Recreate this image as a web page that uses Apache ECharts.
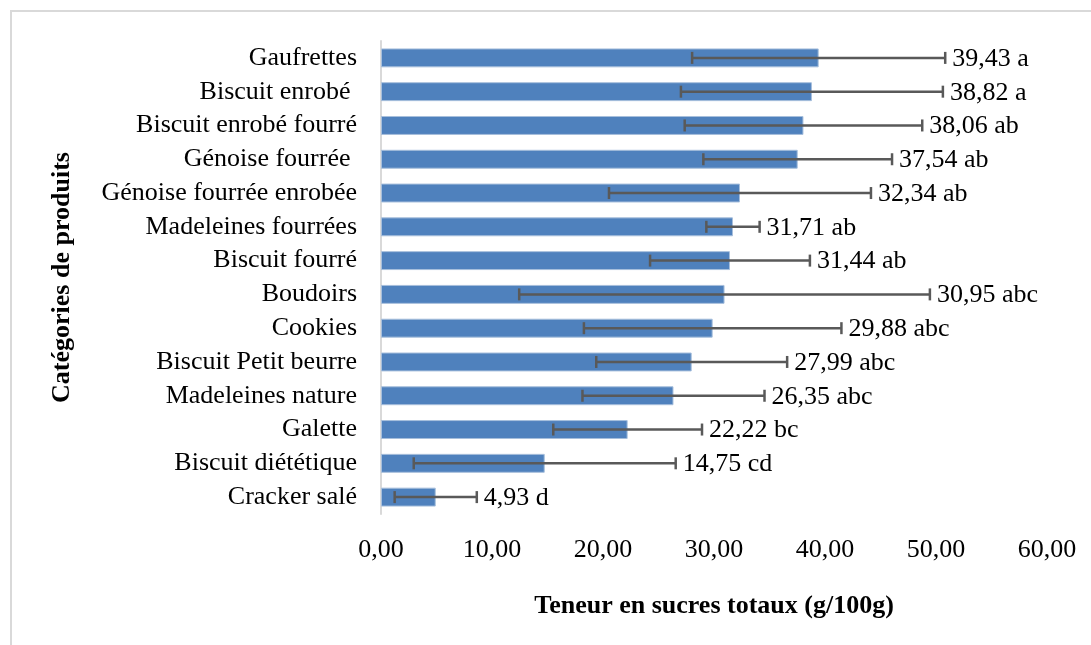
<!DOCTYPE html>
<html>
<head>
<meta charset="utf-8">
<script src="https://cdn.jsdelivr.net/npm/echarts@6/dist/echarts.min.js"></script>
<style>
  html, body { margin: 0; padding: 0; background: #fff; }
  #chart { width: 1091px; height: 645px; }
</style>
</head>
<body>
<div id="chart"></div>
<script>
const categories = [
  'Gaufrettes', 'Biscuit enrobé ', 'Biscuit enrobé fourré', 'Génoise fourrée ',
  'Génoise fourrée enrobée', 'Madeleines fourrées', 'Biscuit fourré', 'Boudoirs',
  'Cookies', 'Biscuit Petit beurre', 'Madeleines nature', 'Galette',
  'Biscuit diététique', 'Cracker salé'
]
const sugarValues = [39.43, 38.82, 38.06, 37.54, 32.34, 31.71, 31.44, 30.95, 29.88, 27.99, 26.35, 22.22, 14.75, 4.93]
const stdDev = [11.4, 11.8, 10.7, 8.5, 11.8, 2.4, 7.2, 18.5, 11.6, 8.6, 8.2, 6.7, 11.8, 3.7]
const letters = ['a', 'a', 'ab', 'ab', 'ab', 'ab', 'ab', 'abc', 'abc', 'abc', 'abc', 'bc', 'cd', 'd']
const xTicks = [0, 10, 20, 30, 40, 50, 60]

const serif = '"Liberation Serif", "Times New Roman", serif'
const fmt = (v) => v.toFixed(2).replace('.', ',')

const errData = sugarValues.map((v, i) => [v - stdDev[i], v + stdDev[i], i])

const chart = echarts.init(document.getElementById('chart'))
chart.setOption({
  animation: false,
  graphic: [
    {
      type: 'rect',
      shape: { x: 11, y: 11, width: 1100, height: 700 },
      style: { fill: 'none', stroke: '#d9d9d9', lineWidth: 2 },
      z: -1,
    },
  ],
  grid: {
    left: 381,
    top: 41,
    width: 666,
    height: 473,
  },
  xAxis: {
    type: 'value',
    min: xTicks[0],
    max: xTicks[xTicks.length - 1],
    interval: 10,
    name: 'Teneur en sucres totaux (g/100g)',
    nameLocation: 'middle',
    nameGap: 79,
    nameTextStyle: {
      fontFamily: serif,
      fontSize: 26,
      fontWeight: 'bold',
      color: '#000',
    },
    axisLine: { show: false },
    axisTick: { show: false },
    splitLine: { show: false },
    axisLabel: {
      margin: 23,
      fontFamily: serif,
      fontSize: 26,
      color: '#000',
      formatter: (v) => fmt(v),
    },
  },
  yAxis: {
    type: 'category',
    inverse: true,
    data: categories,
    name: 'Catégories de produits',
    nameLocation: 'middle',
    nameRotate: 90,
    nameGap: 306,
    nameTextStyle: {
      fontFamily: serif,
      fontSize: 26,
      fontWeight: 'bold',
      color: '#000',
    },
    axisLine: { lineStyle: { color: '#d9d9d9', width: 2 } },
    axisTick: { show: false },
    axisLabel: {
      interval: 0,
      margin: 24,
      fontFamily: serif,
      fontSize: 26,
      color: '#000',
    },
  },
  series: [
    {
      type: 'bar',
      data: sugarValues,
      barCategoryGap: '44%',
      itemStyle: {
        color: '#4f81bd',
        borderColor: '#a7bfdc',
        borderWidth: 1,
      },
    },
    // barres d'erreur + étiquettes
    {
      type: 'custom',
      data: errData,
      encode: { x: [0, 1], y: 2 },
      z: 5,
      renderItem: (params, api) => {
        const idx = api.value(2)
        const lo = api.coord([api.value(0), idx])
        const hi = api.coord([api.value(1), idx])
        const cap = 6
        const lineStyle = { stroke: '#595959', lineWidth: 2.5 }
        return {
          type: 'group',
          children: [
            { type: 'line', shape: { x1: lo[0], y1: lo[1], x2: hi[0], y2: hi[1] }, style: lineStyle },
            { type: 'line', shape: { x1: lo[0], y1: lo[1] - cap, x2: lo[0], y2: lo[1] + cap }, style: lineStyle },
            { type: 'line', shape: { x1: hi[0], y1: hi[1] - cap, x2: hi[0], y2: hi[1] + cap }, style: lineStyle },
            {
              type: 'text',
              style: {
                x: hi[0] + 7,
                y: hi[1] + 1,
                text: fmt(sugarValues[idx]) + ' ' + letters[idx],
                font: '26px ' + serif,
                fill: '#000',
                verticalAlign: 'middle',
                align: 'left',
              },
            },
          ],
        }
      },
    },
  ],
})
</script>
</body>
</html>
